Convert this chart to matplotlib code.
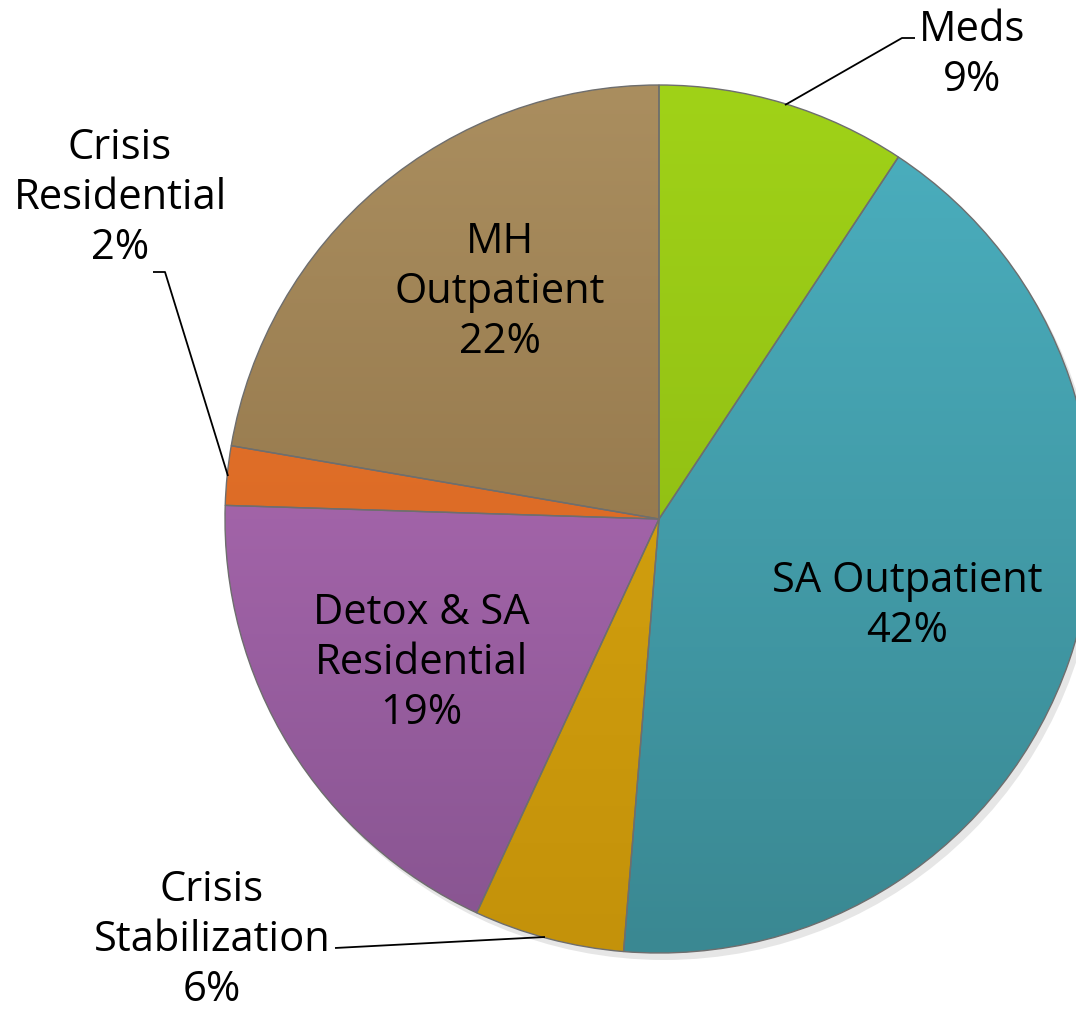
import numpy as np
import matplotlib
matplotlib.use("Agg")
import matplotlib.pyplot as plt
from matplotlib.colors import LinearSegmentedColormap

# ---- data ----
categories = ["Meds", "SA Outpatient", "Crisis\nStabilization", "Detox & SA\nResidential",
              "Crisis\nResidential", "MH\nOutpatient"]
values = [9.3, 42.0, 5.6, 18.6, 2.2, 22.3]
top_colors = ["#a0d218", "#4bb0c0", "#dcaa12", "#bb72bf", "#ea7830", "#aa8e5f"]
bottom_colors = ["#86b010", "#3a8892", "#c4920a", "#875490", "#d0601c", "#86693f"]

W, H = 1076, 1018
fig = plt.figure(figsize=(W / 100, H / 100), dpi=100)
ax = fig.add_axes([0, 0, 1, 1])
plt.rcParams['font.family'] = ['Open Sans', 'DejaVu Sans']

cx, cy, R = 659, H - 519, 434

# subtle shadow
shadow = plt.Circle((cx + 5, cy - 7), R, color="#b8b8b8", alpha=0.35, zorder=0, lw=0)
ax.add_patch(shadow)

wedges, _ = ax.pie(values, startangle=90, counterclock=False, center=(cx, cy),
                   radius=R, colors=top_colors, frame=True,
                   wedgeprops=dict(linewidth=1.0, edgecolor="#6e6e6e"))

# vertical gradient per wedge
for w, ct, cb in zip(wedges, top_colors, bottom_colors):
    cmap = LinearSegmentedColormap.from_list("g", [cb, ct])
    grad = np.linspace(0, 1, 256).reshape(-1, 1)
    im = ax.imshow(grad, cmap=cmap, origin="lower", aspect="auto",
                   extent=(cx - R, cx + R, cy - R, cy + R), zorder=1.5,
                   interpolation="bilinear")
    im.set_clip_path(w)
    w.set_facecolor("none")
    w.set_zorder(2)

ax.set_xlim(0, W)
ax.set_ylim(0, H)
ax.set_aspect("equal")
ax.axis("off")

fs = 30
def lab(x, y, s):
    ax.text(x, H - y, s, ha="center", va="center", fontsize=fs, color="black",
            linespacing=1.25, zorder=5)

pct = [f"{round(v):d}%" for v in values]
lab(972, 55, categories[0] + "\n" + pct[0])
lab(907, 606, categories[1] + "\n" + pct[1])
lab(212, 940, categories[2] + "\n" + pct[2])
lab(421, 663, categories[3] + "\n" + pct[3])
lab(120, 198, categories[4] + "\n" + pct[4])
lab(500, 292, categories[5] + "\n" + pct[5])

# leader lines
def leader(pts):
    xs = [p[0] for p in pts]
    ys = [H - p[1] for p in pts]
    ax.plot(xs, ys, color="black", lw=1.3, zorder=4, solid_capstyle="butt")

leader([(785, 105), (902, 38), (915, 38)])
leader([(153, 272), (165, 272), (228, 476)])
leader([(335, 948), (545, 937)])

fig.savefig("out.png", dpi=100)
